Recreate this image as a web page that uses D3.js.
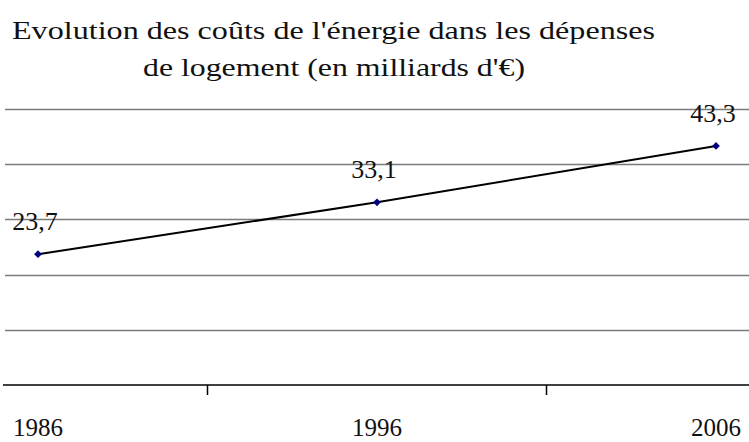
<!DOCTYPE html>
<html><head><meta charset="utf-8">
<script src="https://cdn.jsdelivr.net/npm/d3@7"></script>
<style>body{margin:0;background:#fff}svg{display:block}</style>
</head><body>
<svg id="c" width="749" height="442"></svg>
<script>
const titleLines = ["Evolution des coûts de l'énergie dans les dépenses", "de logement (en milliards d'€)"];
const years = ["1986", "1996", "2006"];
const values = [23.7, 33.1, 43.3];
const valueLabels = ["23,7", "33,1", "43,3"];
const gridTicks = [0, 10, 20, 30, 40, 50];

const svg = d3.select("#c");
const x = d3.scaleBand().domain(years).range([-131.5, 885.5]).padding(0);
const y = d3.scaleLinear().domain([0, 50]).range([385, 109]);
const cx = d => x(d) + x.bandwidth() / 2;

// title
const t = svg.append("g").attr("font-family", "'Liberation Serif', serif").attr("font-size", 26).attr("fill", "#111");
t.append("text").attr("x", 12).attr("y", 39).attr("textLength", 643).attr("lengthAdjust", "spacingAndGlyphs").text(titleLines[0]);
t.append("text").attr("x", 143).attr("y", 76).attr("textLength", 382).attr("lengthAdjust", "spacingAndGlyphs").text(titleLines[1]);

// gridlines
svg.append("g").selectAll("line").data(gridTicks.filter(d => d > 0)).join("line")
  .attr("x1", 5).attr("x2", 749).attr("y1", d => Math.round(y(d)) + 0.5).attr("y2", d => Math.round(y(d)) + 0.5)
  .attr("stroke", "#7a7a7a").attr("stroke-width", 1.5);

// x axis
svg.append("line").attr("x1", 3).attr("x2", 749).attr("y1", y(0)).attr("y2", y(0)).attr("stroke", "#000").attr("stroke-width", 1.5);
const tickPos = years.slice(1).map(d => x(d));
svg.append("g").selectAll("line").data(tickPos).join("line")
  .attr("x1", d => d).attr("x2", d => d).attr("y1", y(0)).attr("y2", y(0) + 10)
  .attr("stroke", "#000").attr("stroke-width", 1.5);
svg.append("g").selectAll("text").data(years).join("text")
  .attr("x", d => cx(d)).attr("y", 436).attr("text-anchor", "middle")
  .attr("font-family", "'Liberation Serif', serif").attr("font-size", 25).attr("fill", "#111")
  .text(d => d);

// line
const pts = years.map((d, i) => [cx(d), y(values[i])]);
svg.append("path").attr("d", d3.line()(pts)).attr("fill", "none").attr("stroke", "#000").attr("stroke-width", 2);
svg.append("g").selectAll("path").data(pts).join("path")
  .attr("d", d3.symbol(d3.symbolSquare, 30)()).attr("transform", d => `translate(${d[0]},${d[1]}) rotate(45)`)
  .attr("fill", "#000080");

// value labels
svg.append("g").selectAll("text").data(pts).join("text")
  .attr("x", d => d[0] - 3).attr("y", d => d[1] - 24)
  .attr("text-anchor", "middle").attr("font-family", "'Liberation Serif', serif").attr("font-size", 26).attr("fill", "#111")
  .text((d, i) => valueLabels[i]);
</script>
</body></html>
